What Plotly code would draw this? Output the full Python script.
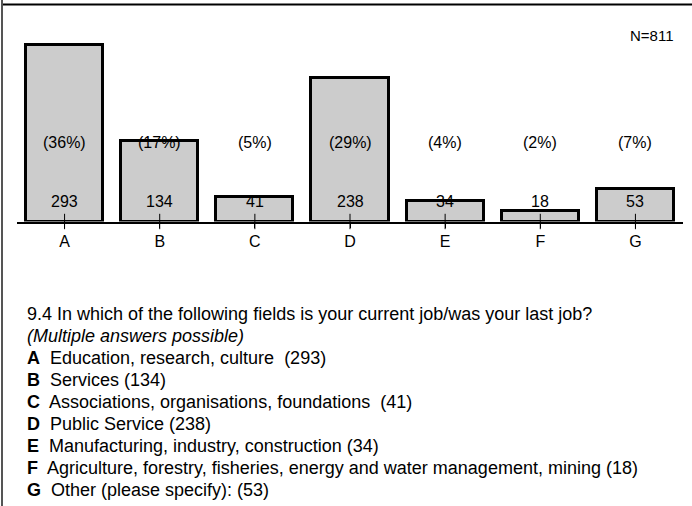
import plotly.graph_objects as go

# Survey answers: field of current / last job
categories = ["A", "B", "C", "D", "E", "F", "G"]
counts = [293, 134, 41, 238, 34, 18, 53]
percent_labels = ["(36%)", "(17%)", "(5%)", "(29%)", "(4%)", "(2%)", "(7%)"]
sample_label = "N=811"

question = "9.4 In which of the following fields is your current job/was your last job?"
note = "(Multiple answers possible)"
descriptions = [
    "Education, research, culture  (293)",
    "Services (134)",
    "Associations, organisations, foundations  (41)",
    "Public Service (238)",
    "Manufacturing, industry, construction (34)",
    "Agriculture, forestry, fisheries, energy and water management, mining (18)",
    "Other (please specify): (53)",
]

W, H = 692, 506
FONT = "Arial, Liberation Sans, sans-serif"

# plot area in pixels
X0, X1 = 17, 683
Y_TOP, Y_AXIS = 5, 221.5
PX_PER_UNIT = 0.604
Y_MAX = (Y_AXIS - Y_TOP) / PX_PER_UNIT

COUNT_LABEL_Y = 33
PCT_LABEL_Y = 131


def px(x):
    return x / W


def py(y):
    return 1 - y / H


fig = go.Figure()

fig.add_trace(go.Bar(
    x=categories,
    y=counts,
    width=0.81,
    marker=dict(color="#cccccc", line=dict(color="black", width=3)),
    hoverinfo="skip",
))

# small cross marks on the category axis
fig.add_trace(go.Scatter(
    x=categories,
    y=[0] * len(categories),
    mode="markers",
    marker=dict(symbol="line-ns-open", size=11, color="black",
                line=dict(color="black", width=1)),
    cliponaxis=False,
    hoverinfo="skip",
))

annotations = []
for cat, n, pct in zip(categories, counts, percent_labels):
    annotations.append(dict(x=cat, y=COUNT_LABEL_Y, xref="x", yref="y", text=str(n),
                            showarrow=False, font=dict(family=FONT, size=16, color="black")))
    annotations.append(dict(x=cat, y=PCT_LABEL_Y, xref="x", yref="y", text=pct,
                            showarrow=False, font=dict(family=FONT, size=16, color="black")))

annotations.append(dict(x=px(676), y=py(35), xref="paper", yref="paper", text=sample_label,
                        xanchor="right", yanchor="middle", showarrow=False,
                        font=dict(family=FONT, size=15, color="black")))

# question text block below the chart
lines = [question, "<i>" + note + "</i>"] + [
    "<b>" + c + "</b>  " + d for c, d in zip(categories, descriptions)
]
LINE0, LINE_STEP = 314, 22
for i, line in enumerate(lines):
    annotations.append(dict(x=px(25), y=py(LINE0 + i * LINE_STEP), xref="paper", yref="paper",
                            text=line, xanchor="left", yanchor="middle", showarrow=False,
                            align="left", font=dict(family=FONT, size=18, color="black")))

shapes = [
    # frame: top rule and left rule
    dict(type="line", xref="paper", yref="paper", x0=px(2), x1=1.0, y0=py(4.5), y1=py(4.5),
         line=dict(color="black", width=2)),
    dict(type="line", xref="paper", yref="paper", x0=px(2), x1=px(2), y0=0, y1=1,
         line=dict(color="#555555", width=2)),
]

fig.update_layout(
    width=W,
    height=H,
    margin=dict(l=0, r=0, t=0, b=0),
    paper_bgcolor="white",
    plot_bgcolor="white",
    showlegend=False,
    bargap=0,
    annotations=annotations,
    shapes=shapes,
    xaxis=dict(
        domain=[px(X0), px(X1)],
        range=[-0.5, 6.5],
        showline=True, linecolor="black", linewidth=1.5,
        ticks="outside", ticklen=5, tickcolor="black", tickwidth=1,
        showgrid=False, zeroline=False,
        tickfont=dict(family=FONT, size=16, color="black"),
        fixedrange=True,
    ),
    yaxis=dict(
        domain=[py(Y_AXIS), py(Y_TOP)],
        range=[0, Y_MAX],
        visible=False,
        fixedrange=True,
    ),
    font=dict(family=FONT, color="black"),
)

fig.write_html("out.html")
